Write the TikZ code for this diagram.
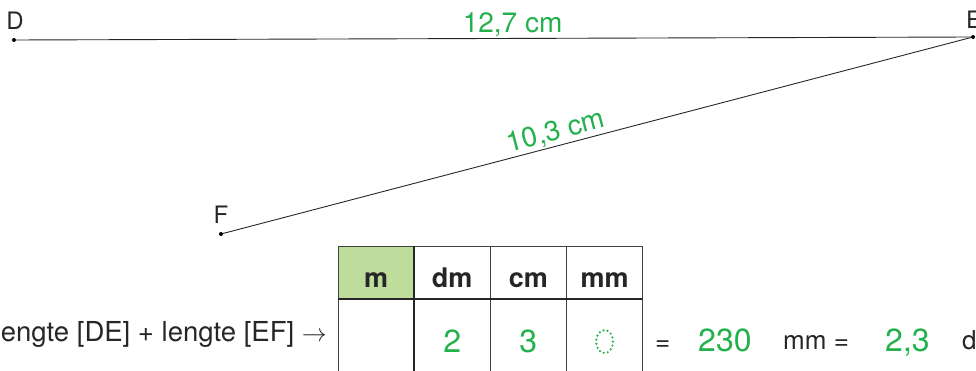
\documentclass[tikz,border=0pt]{standalone}
\usepackage{fontspec}
\setmainfont{TeX Gyre Heros}
\usetikzlibrary{shapes.geometric}
\definecolor{meetgroen}{RGB}{34,177,76}
\definecolor{kopgroen}{RGB}{190,221,156}
\newcommand{\fsz}[1]{\fontsize{#1}{#1}\selectfont}

\begin{document}
\begin{tikzpicture}[x=1pt, y=-1pt,
  dot/.style={circle, fill=black, inner sep=0pt, minimum size=4pt},
  pname/.style={font=\fsz{24}, text=black!85, inner sep=0pt},
  meas/.style={font=\fsz{28}, text=meetgroen, inner sep=1.5pt},
  head/.style={draw=black!75, minimum width=75.75pt, minimum height=53pt, font=\fsz{27}\bfseries, text=black!85, text height=30pt, text depth=0pt, anchor=north west, inner sep=0pt},
  cell/.style={draw=black!75, minimum width=75.75pt, minimum height=84pt, font=\fsz{32}, text=meetgroen, anchor=north west, inner sep=0pt},
  txt/.style={font=\fsz{26}, text=black!85, anchor=base west, inner sep=0pt},
  num/.style={font=\fsz{32}, text=meetgroen, anchor=base west, inner sep=0pt},
  line/.style={draw=black!85, line width=0.9pt},
  sep/.style={draw=black!85, line width=2pt}
]
\useasboundingbox (0,0) rectangle (976,371);
\clip (0,0) rectangle (976,371);

% punten en zijden
\node[dot] (D) at (14,40) {};
\node[dot] (E) at (973,37) {};
\node[dot] (F) at (221,234) {};
\node[pname] (Dn) at (15,21) {D};
\node[pname] (En) at (974,20) {E};
\node[pname] (Fn) at (221,215) {F};

\draw[line] (D) -- node[meas, above, pos=0.52] (lDE) {12,7 cm} (E);
\draw[line] (F) -- node[meas, above, sloped, pos=0.45] (lEF) {10,3 cm} (E);

% tabel
\node[head, fill=kopgroen] (hm) at (338,246) {m};
\node[head] (hdm) at (hm.north east) {dm};
\node[head] (hcm) at (hdm.north east) {cm};
\node[head] (hmm) at (hcm.north east) {mm};
\node[cell] (bm) at (hm.south west) {};
\node[cell] (bdm) at (bm.north east) {2};
\node[cell] (bcm) at (bdm.north east) {3};
\node[cell] (bmm) at (bcm.north east) {};
\node[ellipse, draw=meetgroen, line width=2.4pt, line cap=round, dash pattern=on 0pt off 4.2pt, minimum width=17pt, minimum height=23pt, inner sep=0pt] (nul) at (bmm.center) {};

\draw[sep] (hm.north east) -- (bm.south east);
\draw[sep] (hm.south west) -- (hmm.south east);

% som
\node[font=\fsz{27.5}, text=black!85, anchor=base east, inner sep=0pt] (som) at (327,341) {lengte [DE] + lengte [EF] $\rightarrow$};
\node[txt] (is1) at (655,350) {=};
\node[num] (mm1) at (698,351) {230};
\node[txt] (eh1) at (783,349) {mm =};
\node[num] (dm1) at (885,351) {2,3};
\node[txt] (eh2) at (962,349) {dm};
\end{tikzpicture}
\end{document}
